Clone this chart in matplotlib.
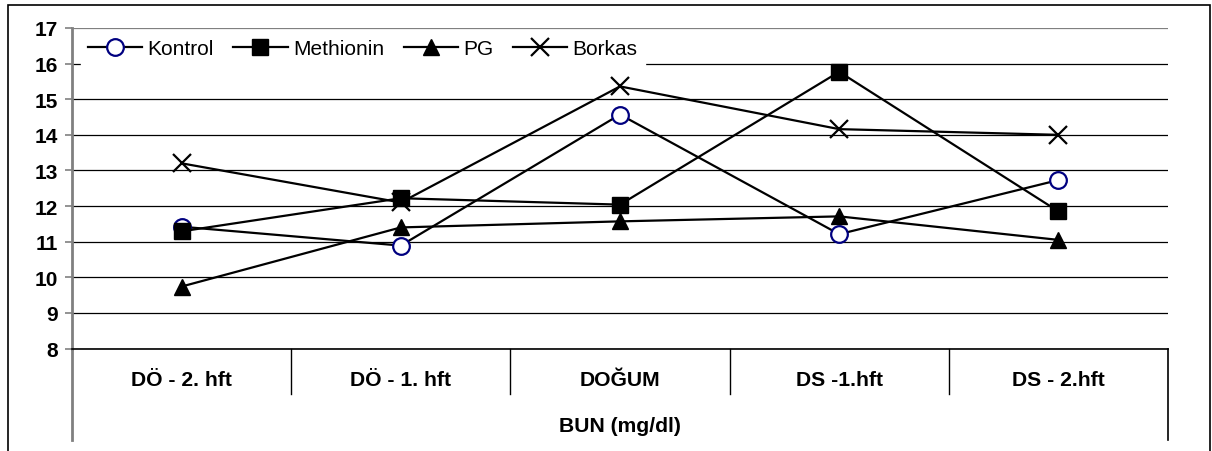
import matplotlib
matplotlib.use("Agg")
import matplotlib.pyplot as plt
from matplotlib.patches import Rectangle

plt.rcParams['font.family'] = ['Liberation Sans', 'DejaVu Sans']

# data
categories = ["DÖ - 2. hft", "DÖ - 1. hft", "DOĞUM", "DS -1.hft", "DS - 2.hft"]
kontrol    = [11.42, 10.89, 14.57, 11.21, 12.73]
methionin  = [11.29, 12.22, 12.04, 15.77, 11.85]
pg         = [9.74, 11.40, 11.57, 11.71, 11.05]
borkas     = [13.20, 12.10, 15.36, 14.16, 14.00]
yticks = list(range(8, 18))
xlabel = "BUN (mg/dl)"

W, H = 1212, 452
fig = plt.figure(figsize=(W / 100, H / 100), dpi=100)

# axes placed in pixel terms
left, right, top, bottom = 72, 1168, 29, 349.5
ax = fig.add_axes([left / W, 1 - bottom / H, (right - left) / W, (bottom - top) / H])

x = range(len(categories))
ax.plot(x, kontrol, color='black', lw=1.6, marker='o', ms=12, mfc='white',
        mec='#000080', mew=1.6, label='Kontrol', zorder=3)
ax.plot(x, methionin, color='black', lw=1.6, marker='s', ms=11, mfc='black',
        mec='black', label='Methionin', zorder=3)
ax.plot(x, pg, color='black', lw=1.6, marker='^', ms=11, mfc='black',
        mec='black', label='PG', zorder=3)
ax.plot(x, borkas, color='black', lw=1.6, marker='x', ms=13, mec='black',
        mew=1.6, label='Borkas', zorder=3)

ax.set_xlim(-0.5, len(categories) - 0.5)
ax.set_ylim(8, 17)
ax.set_yticks(yticks)
ax.set_yticklabels([str(t) for t in yticks], fontsize=15, fontweight='bold')
ax.set_xticks([])

ax.yaxis.grid(True, color='black', lw=0.9)
ax.get_ygridlines()[-1].set_color('#808080')
ax.set_axisbelow(True)
ax.tick_params(axis='y', length=5, width=1.2, color='#808080', pad=5)

for s in ['top', 'right']:
    ax.spines[s].set_visible(False)
ax.spines['left'].set_color('#808080')
ax.spines['left'].set_linewidth(2)
ax.spines['left'].set_bounds(8, 17)
ax.spines['bottom'].set_color('black')
ax.spines['bottom'].set_linewidth(1.2)

# category table under the axis
h = bottom - top
div_bot = -(395 - bottom) / h
tab_bot = -(441 - bottom) / h
trans = ax.get_xaxis_transform()
for i in range(1, len(categories)):
    ax.plot([i - 0.5, i - 0.5], [0, div_bot], color='black', lw=1,
            transform=trans, clip_on=False)
ax.plot([-0.5, -0.5], [0, tab_bot], color='#808080', lw=2,
        transform=trans, clip_on=False)
ax.plot([len(categories) - 0.5] * 2, [0, tab_bot], color='black', lw=1.2,
        transform=trans, clip_on=False)
for i, c in enumerate(categories):
    ax.text(i, -(381 - bottom) / h, c, transform=trans, ha='center',
            va='center', fontsize=15.2, fontweight='bold')
ax.text((len(categories) - 1) / 2, -(427 - bottom) / h, xlabel,
        transform=trans, ha='center', va='center', fontsize=15.2,
        fontweight='bold')

leg = ax.legend(loc='upper left', bbox_to_anchor=(0.004, 1.0), ncol=4,
                frameon=True, fontsize=15, handlelength=2.6,
                columnspacing=0.95, handletextpad=0.25, borderaxespad=0.2,
                borderpad=0.35)
leg.get_frame().set_facecolor('white')
leg.get_frame().set_edgecolor('white')
leg.get_frame().set_alpha(1)
leg.get_frame().set_boxstyle('square', pad=0)

# outer chart border
fig.patches.append(Rectangle((8 / W, -0.05), 1202 / W, 1.05 - 6 / H,
                             transform=fig.transFigure, fill=False,
                             edgecolor='black', lw=1.2))

fig.savefig("out.png", dpi=100)
